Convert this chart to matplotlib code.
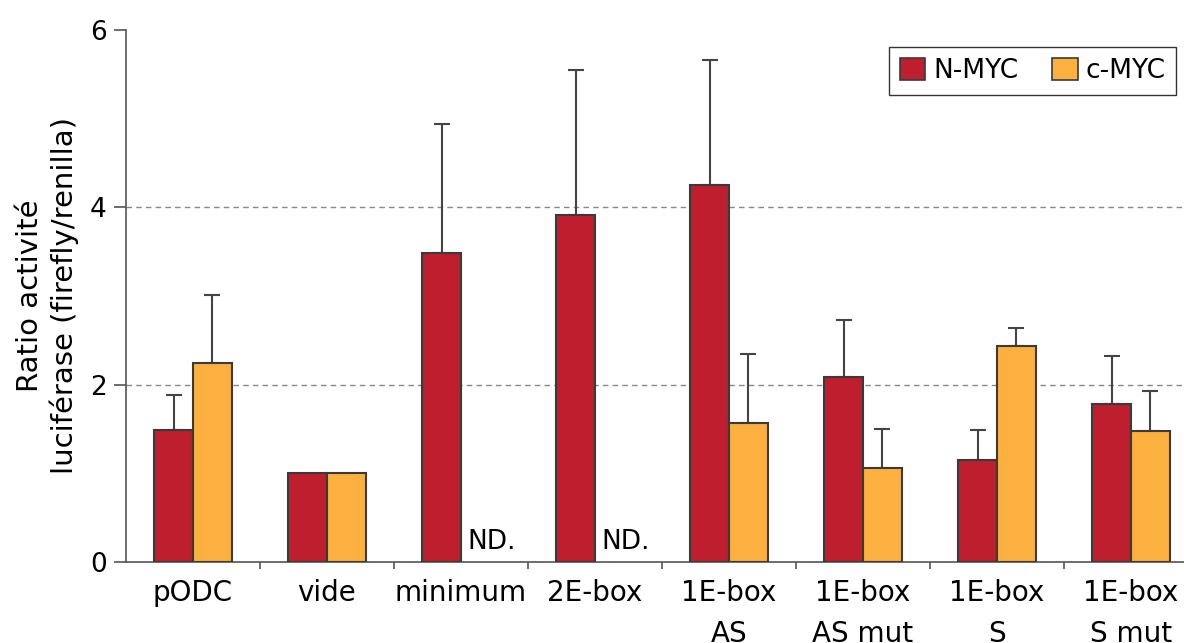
import numpy as np
import matplotlib
matplotlib.use("Agg")
import matplotlib.pyplot as plt
from matplotlib.patches import Patch

# data
labels = ['pODC', 'vide', 'minimum', '2E-box', '1E-box\nAS', '1E-box\nAS mut', '1E-box\nS', '1E-box\nS mut']
nmyc = [1.49, 1.00, 3.48, 3.91, 4.25, 2.09, 1.15, 1.78]
nmyc_err = [0.39, 0.0, 1.46, 1.64, 1.41, 0.64, 0.34, 0.54]
cmyc = [2.24, 1.00, np.nan, np.nan, 1.57, 1.06, 2.44, 1.48]
cmyc_err = [0.77, 0.0, 0.0, 0.0, 0.78, 0.44, 0.20, 0.45]
nd_groups = [2, 3]

red = '#BE1E2D'
orange = '#FBB040'
edge = '#3a3a3a'

plt.rcParams['font.family'] = ['DejaVu Sans']

fig = plt.figure(figsize=(11.84, 6.43), dpi=100)
ax = fig.add_axes([126/1184, 81/643, 1 - 126/1184, 532/643])

x = np.arange(len(labels))
w = 0.29
cm = np.array(cmyc)
ok = ~np.isnan(cm)

ax.bar(x - w/2, nmyc, w, color=red, edgecolor=edge, linewidth=1.5, zorder=3)
ax.bar(x[ok] + w/2, cm[ok], w, color=orange, edgecolor=edge, linewidth=1.5, zorder=3)

# upper error bars only
for i in range(len(x)):
    if nmyc_err[i] > 0:
        ax.errorbar(x[i] - w/2, nmyc[i], yerr=[[0], [nmyc_err[i]]], fmt='none',
                    ecolor='#444444', elinewidth=1.5, capsize=6, capthick=1.5, zorder=2)
    if cmyc_err[i] > 0:
        ax.errorbar(x[i] + w/2, cmyc[i], yerr=[[0], [cmyc_err[i]]], fmt='none',
                    ecolor='#444444', elinewidth=1.5, capsize=6, capthick=1.5, zorder=2)

for g in nd_groups:
    ax.text(x[g] + 0.045, 0.08, 'ND.', fontsize=19, ha='left', va='bottom', zorder=4)

ax.set_xlim(-0.5, 7.5 - 14/134)
ax.set_ylim(0, 6)
ax.set_yticks([0, 2, 4, 6])
ax.set_xticks(x)
ax.set_xticklabels(labels, fontsize=20, linespacing=1.6)
ax.set_xticks(np.arange(0.5, 7.5, 1), minor=True)
ax.tick_params(axis='x', which='major', length=0, pad=12)
ax.tick_params(axis='x', which='minor', length=5, width=1.2, color='#555555', direction='out')
ax.tick_params(axis='y', labelsize=19, length=9, width=1.2, color='#555555', pad=5)

for y in [2, 4]:
    ax.axhline(y, color='#888888', linestyle=(0, (4, 3)), linewidth=1, zorder=1)

ax.spines['top'].set_visible(False)
ax.spines['right'].set_visible(False)
ax.spines['left'].set_color('#555555')
ax.spines['bottom'].set_color('#555555')
ax.spines['left'].set_linewidth(1.2)
ax.spines['bottom'].set_linewidth(1.2)

ax.set_ylabel('Ratio activité\nluciférase (firefly/renilla)', fontsize=21, linespacing=1.2, labelpad=8)

handles = [Patch(facecolor=red, edgecolor=edge, linewidth=1.2, label='N-MYC'),
           Patch(facecolor=orange, edgecolor=edge, linewidth=1.2, label='c-MYC')]
leg = ax.legend(handles=handles, loc='upper right', bbox_to_anchor=(1176/1184, 1 - 47/643),
                bbox_transform=fig.transFigure, ncol=2, fontsize=19, frameon=True,
                fancybox=False, edgecolor='black', handlelength=0.95, handleheight=0.95,
                handletextpad=0.3, columnspacing=1.3, borderpad=0.4, borderaxespad=0)
leg.get_frame().set_linewidth(1.0)

fig.savefig('out.png', dpi=100)
